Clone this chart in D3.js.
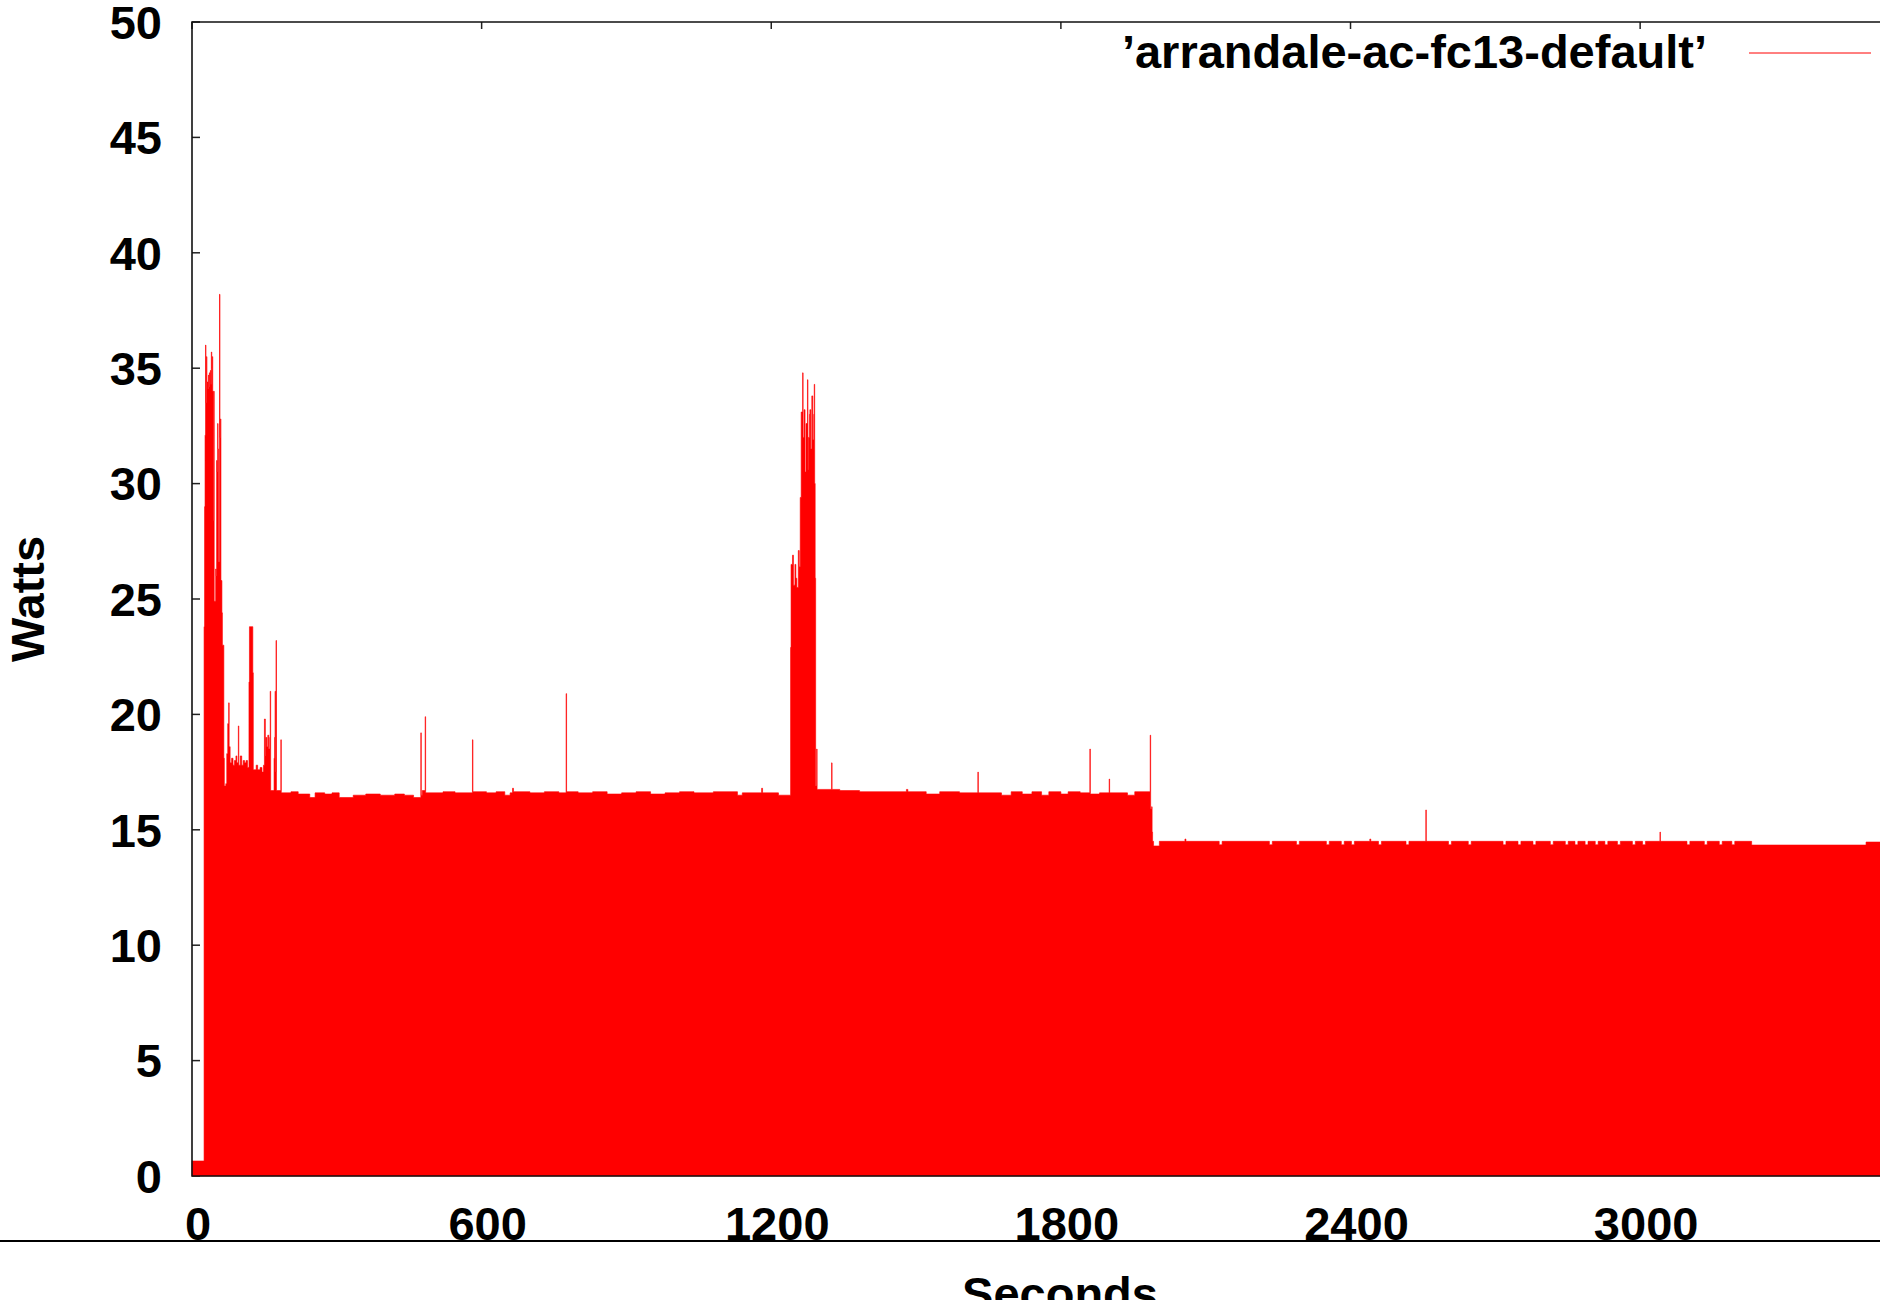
<!DOCTYPE html>
<html>
<head>
<meta charset="utf-8">
<script src="https://cdn.jsdelivr.net/npm/d3@7"></script>
<style>
  body { margin: 0; background: #fff; overflow: hidden; }
  text { font-family: "Liberation Sans", Arial, Helvetica, sans-serif; font-weight: bold; font-size: 47px; fill: #000; }
</style>
</head>
<body>
<div id="chart"></div>
<script>
var seriesName = "\u2019arrandale-ac-fc13-default\u2019";
var xTicks = [0, 600, 1200, 1800, 2400, 3000];
var yTicks = [0, 5, 10, 15, 20, 25, 30, 35, 40, 45, 50];

// [seconds, watts], phase by phase
var bootTrace = [
  [0, 0.65], [25, 23.8], [26, 29.0], [27, 32.1], [28, 36.0], [29, 33.5], [30, 35.5], [31, 34.4],
  [33, 34.1], [34, 34.7], [35, 34.2], [36, 34.8], [37, 34.5], [38, 34.9], [39, 34.3], [40, 35.7],
  [41, 35.0], [42, 35.5], [43, 34.0], [44, 28.4], [45, 34.0], [46, 24.9], [49, 26.3], [50, 26.0],
  [51, 31.0], [52, 30.5], [53, 32.6], [54, 31.5], [55, 26.6], [57, 38.2], [58, 32.0], [59, 32.8],
  [60, 25.8], [62, 24.4], [63, 23.0], [66, 18.1], [67, 16.9], [70, 17.0], [72, 18.3], [74, 19.6],
  [76, 20.5], [77, 18.6], [79, 17.9], [82, 18.1], [85, 17.8], [88, 18.0], [91, 18.2], [93, 17.9],
  [96, 19.5], [97, 17.8], [100, 18.2], [103, 17.8], [106, 18.0], [109, 17.9], [112, 18.0], [115, 17.7],
  [118, 21.4], [119, 23.8], [126, 21.8], [127, 17.6], [133, 17.8], [136, 17.6], [141, 17.7], [145, 17.5],
  [148, 17.8], [150, 19.8], [152, 18.2], [153, 19.0], [155, 18.6], [157, 19.1], [159, 18.5], [161, 19.0],
  [162, 21.0], [163, 16.7], [170, 18.1], [171, 19.0], [172, 21.0], [173, 17.5], [174, 23.2], [175, 16.7],
  [184, 18.9]
];
var idleTrace = [
  [185, 16.6], [205, 16.65], [220, 16.55], [244, 16.4], [255, 16.6], [275, 16.55], [290, 16.6], [305, 16.4],
  [334, 16.5], [360, 16.55], [390, 16.5], [420, 16.55], [440, 16.5], [459, 16.4], [474, 19.2], [475, 16.5],
  [477, 16.7], [483, 19.9], [484, 16.6], [520, 16.65], [545, 16.6], [581, 18.9], [582, 16.65], [610, 16.6],
  [630, 16.65], [648, 16.5], [659, 16.6], [664, 16.8], [666, 16.65], [700, 16.6], [730, 16.65], [760, 16.6],
  [775, 20.9], [776, 16.65], [800, 16.6], [830, 16.65], [860, 16.55], [890, 16.6], [920, 16.65], [950, 16.55],
  [980, 16.6], [1010, 16.65], [1040, 16.6], [1080, 16.65], [1130, 16.5], [1140, 16.6], [1180, 16.8], [1182, 16.6],
  [1215, 16.5]
];
var burstTrace = [
  [1240, 22.9], [1241, 26.5], [1244, 26.9], [1246, 25.6], [1249, 26.5], [1251, 25.9], [1253, 25.5], [1256, 27.1],
  [1258, 26.4], [1260, 29.4], [1262, 33.1], [1265, 34.8], [1266, 32.0], [1268, 33.2], [1270, 30.5], [1272, 32.6],
  [1275, 34.5], [1276, 30.6], [1277, 32.0], [1279, 33.0], [1280, 33.2], [1282, 31.5], [1284, 33.8], [1286, 31.9],
  [1288, 33.0], [1289, 34.3], [1290, 30.0], [1291, 25.9], [1292, 16.9], [1294, 18.5]
];
var plateauTrace = [
  [1295, 16.75], [1325, 17.9], [1326, 16.75], [1342, 16.7], [1383, 16.65], [1480, 16.75], [1483, 16.65], [1521, 16.55],
  [1549, 16.65], [1590, 16.6], [1628, 17.5], [1629, 16.6], [1677, 16.5], [1697, 16.65], [1720, 16.55], [1740, 16.65],
  [1760, 16.5], [1775, 16.65], [1800, 16.55], [1815, 16.65], [1840, 16.6], [1860, 18.5], [1861, 16.55], [1880, 16.6],
  [1900, 17.2], [1901, 16.6], [1938, 16.5], [1953, 16.65], [1985, 19.1]
];
var lowTrace = [
  [1986, 15.9], [1988, 16.0], [1989, 14.9], [1990, 14.5], [1992, 14.3], [2004, 14.5], [2057, 14.6], [2059, 14.5],
  [2128, 14.35], [2134, 14.5], [2232, 14.35], [2238, 14.5], [2288, 14.35], [2294, 14.5], [2350, 14.35], [2356, 14.5],
  [2381, 14.35], [2387, 14.5], [2402, 14.35], [2408, 14.5], [2440, 14.6], [2442, 14.5], [2458, 14.35], [2464, 14.5],
  [2515, 14.35], [2521, 14.5], [2556, 15.86], [2557, 14.5], [2603, 14.35], [2609, 14.5], [2644, 14.35], [2650, 14.5],
  [2716, 14.35], [2722, 14.5], [2747, 14.35], [2753, 14.5], [2778, 14.35], [2784, 14.5], [2814, 14.35], [2820, 14.5],
  [2845, 14.35], [2851, 14.5], [2865, 14.35], [2871, 14.5], [2886, 14.35], [2892, 14.5], [2907, 14.35], [2913, 14.5],
  [2927, 14.35], [2933, 14.5], [2953, 14.35], [2959, 14.5], [2984, 14.35], [2990, 14.5], [3005, 14.35], [3011, 14.5],
  [3041, 14.9], [3042, 14.5], [3097, 14.35], [3103, 14.5], [3133, 14.35], [3139, 14.5], [3164, 14.35], [3170, 14.5],
  [3190, 14.35], [3196, 14.5], [3231, 14.34], [3468, 14.47], [3500, 14.47]
];

(function(){
    var width = 1880, height = 1300;
    var plotLeft = 192, plotTop = 22, plotBottom = 1176;
    var red = "#ff0000";

    var trace = bootTrace.concat(idleTrace, burstTrace, plateauTrace, lowTrace);

    var svg = d3.select("#chart").append("svg")
        .attr("width", width)
        .attr("height", height);
    svg.append("rect").attr("width", width).attr("height", height).attr("fill", "#fff");

    var x = d3.scaleLinear().domain([0, 3500]).range([plotLeft, 1881.5]);
    var y = d3.scaleLinear().domain([0, 50]).range([plotBottom, plotTop]);

    // inward ticks (left and top), drawn under the data like gnuplot
    svg.append("g").selectAll("line")
        .data(yTicks)
        .enter().append("line")
        .attr("x1", plotLeft).attr("x2", plotLeft + 8)
        .attr("y1", function(d){ return y(d); })
        .attr("y2", function(d){ return y(d); })
        .attr("stroke", "#222").attr("stroke-width", 1.5);
    svg.append("g").selectAll("line")
        .data(xTicks)
        .enter().append("line")
        .attr("x1", function(d){ return x(d); })
        .attr("x2", function(d){ return x(d); })
        .attr("y1", plotTop).attr("y2", plotTop + 7)
        .attr("stroke", "#222").attr("stroke-width", 1.5);

    var area = d3.area()
        .curve(d3.curveStepAfter)
        .x(function(d){ return x(d[0]); })
        .y0(y(0))
        .y1(function(d){ return y(d[1]); });

    // thin stroke gives one-sample spikes the ~1px width of impulses
    svg.append("path")
        .datum(trace)
        .attr("d", area)
        .attr("fill", red)
        .attr("stroke", red)
        .attr("stroke-width", 0.6);

    // border
    var xEnd = x(3500);
    svg.append("path")
        .attr("d", "M" + xEnd + "," + plotTop + "H" + plotLeft + "V" + plotBottom + "H" + xEnd)
        .attr("fill", "none")
        .attr("stroke", "#111")
        .attr("stroke-width", 1.6);

    // tick labels
    svg.append("g").selectAll("text")
        .data(yTicks)
        .enter().append("text")
        .attr("x", 162)
        .attr("y", function(d){ return y(d); })
        .attr("dy", "0.358em")
        .attr("text-anchor", "end")
        .text(function(d){ return d; });

    svg.append("g").selectAll("text")
        .data(xTicks)
        .enter().append("text")
        .attr("x", function(d){ return x(d) + 6; })
        .attr("y", 1240)
        .attr("text-anchor", "middle")
        .text(function(d){ return d; });

    // rule under the tick labels
    svg.append("line")
        .attr("x1", 0).attr("x2", width)
        .attr("y1", 1241).attr("y2", 1241)
        .attr("stroke", "#000").attr("stroke-width", 2);

    svg.append("text")
        .attr("x", 1060)
        .attr("y", 1310)
        .attr("text-anchor", "middle")
        .text("Seconds");

    svg.append("text")
        .attr("transform", "translate(44,599) rotate(-90)")
        .attr("text-anchor", "middle")
        .text("Watts");

    // key
    svg.append("text")
        .attr("x", 1707)
        .attr("y", 68)
        .attr("text-anchor", "end")
        .text(seriesName);
    svg.append("line")
        .attr("x1", 1749).attr("x2", 1871)
        .attr("y1", 53).attr("y2", 53)
        .attr("stroke", red).attr("stroke-width", 1);
})();
</script>
</body>
</html>
